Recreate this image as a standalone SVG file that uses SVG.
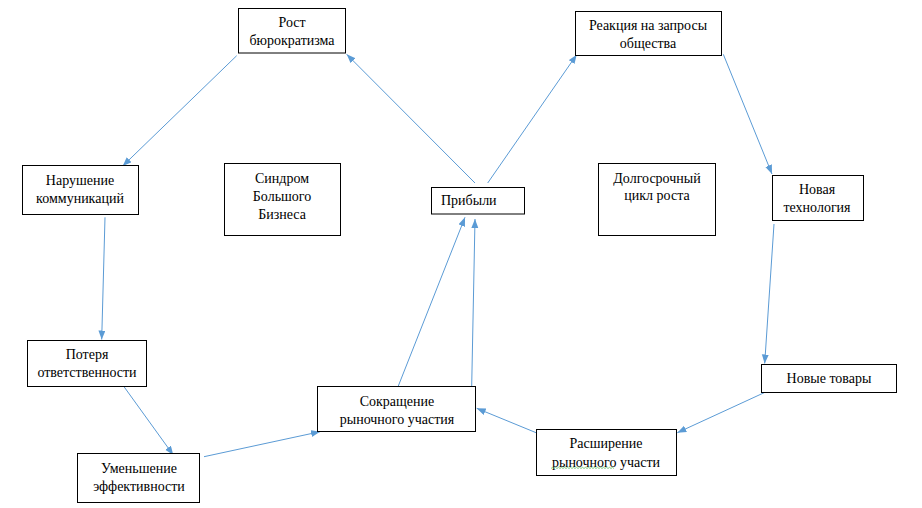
<svg xmlns="http://www.w3.org/2000/svg" width="922" height="508" viewBox="0 0 922 508">
<style>
.box{fill:#fff;stroke:#000;stroke-width:1}
.t{font-family:"Liberation Serif","Times New Roman",serif;font-size:14px;fill:#000;text-anchor:middle}
.c{stroke:#5B9BD5;stroke-width:1;fill:none;marker-end:url(#ah)}
</style>
<defs>
<marker id="ah" markerUnits="userSpaceOnUse" markerWidth="10" markerHeight="8" refX="9" refY="3.5" orient="auto">
<path d="M0,0 L9,3.5 L0,7 z" fill="#5B9BD5"/>
</marker>
</defs>
<rect width="922" height="508" fill="#fff"/>
<g id="connectors">
<line class="c" x1="236.7" y1="55.7" x2="122.7" y2="166"/>
<line class="c" x1="105" y1="217.3" x2="101.7" y2="339.5"/>
<line class="c" x1="124" y1="386.7" x2="173.3" y2="455"/>
<line class="c" x1="204" y1="456.7" x2="320" y2="431.7"/>
<line class="c" x1="398.3" y1="386" x2="465" y2="217.3"/>
<line class="c" x1="471.7" y1="386" x2="475" y2="219"/>
<line class="c" x1="475" y1="183" x2="346.7" y2="54.3"/>
<line class="c" x1="487.7" y1="183" x2="576.7" y2="54.7"/>
<line class="c" x1="723.3" y1="54.3" x2="772" y2="174"/>
<line class="c" x1="774" y1="224" x2="764.7" y2="363.5"/>
<line class="c" x1="765" y1="392.3" x2="677.3" y2="432.7"/>
<line class="c" x1="541.7" y1="435" x2="476.7" y2="408.3"/>
</g>
<g id="n-rost"><rect class="box" x="238.5" y="8.5" width="107" height="44.5"/><text class="t" x="292" y="27">Рост</text><text class="t" x="292" y="45">бюрократизма</text></g>
<g id="n-narushenie"><rect class="box" x="22.5" y="165.5" width="116" height="49"/><text class="t" x="80" y="185">Нарушение</text><text class="t" x="80" y="203">коммуникаций</text></g>
<g id="n-sindrom"><rect class="box" x="224.5" y="163.5" width="116" height="72"/><text class="t" x="282" y="182.5">Синдром</text><text class="t" x="282" y="201">Большого</text><text class="t" x="282" y="219">Бизнеса</text></g>
<g id="n-pribyli"><rect class="box" x="431.5" y="187.5" width="93" height="26.5"/><text class="t" x="441" y="205" style="text-anchor:start">Прибыли</text></g>
<g id="n-reakcia"><rect class="box" x="575.5" y="11.5" width="146" height="44"/><text class="t" x="648" y="30">Реакция на запросы</text><text class="t" x="648" y="48">общества</text></g>
<g id="n-dolgo"><rect class="box" x="598.5" y="163.5" width="117" height="72"/><text class="t" x="657" y="182.5">Долгосрочный</text><text class="t" x="657" y="200">цикл роста</text></g>
<g id="n-tech"><rect class="box" x="772.5" y="175.5" width="91" height="45"/><text class="t" x="817" y="194">Новая</text><text class="t" x="817" y="212">технология</text></g>
<g id="n-tovary"><rect class="box" x="761.5" y="364.5" width="135" height="28"/><text class="t" x="829" y="382.5">Новые товары</text></g>
<g id="n-rasshirenie"><rect class="box" x="536.5" y="429.5" width="140" height="46"/><text class="t" x="606" y="448">Расширение</text><text class="t" x="606" y="466.5">рыночного участи</text><path d="M551,468.5 l1.5,-1.2 l1.5,1.2 l1.5,-1.2 l1.5,1.2 l1.5,-1.2 l1.5,1.2 l1.5,-1.2 l1.5,1.2 l1.5,-1.2 l1.5,1.2 l1.5,-1.2 l1.5,1.2 l1.5,-1.2 l1.5,1.2 l1.5,-1.2 l1.5,1.2 l1.5,-1.2 l1.5,1.2 l1.5,-1.2 l1.5,1.2 l1.5,-1.2 l1.5,1.2 l1.5,-1.2 l1.5,1.2 l1.5,-1.2 l1.5,1.2 l1.5,-1.2 l1.5,1.2 l1.5,-1.2 l1.5,1.2 l1.5,-1.2 l1.5,1.2 l1.5,-1.2 l1.5,1.2 l1.5,-1.2 l1.5,1.2 l1.5,-1.2 l1.5,1.2 l1.5,-1.2 l1.5,1.2 l1.5,-1.2 l1.5,1.2" fill="none" stroke="#5FBF5F" stroke-width="0.8"/></g>
<g id="n-sokrashenie"><rect class="box" x="317.5" y="386.5" width="158" height="45"/><text class="t" x="397" y="406">Сокращение</text><text class="t" x="397" y="424">рыночного участия</text></g>
<g id="n-poterya"><rect class="box" x="27.5" y="340.5" width="119" height="46"/><text class="t" x="87" y="359">Потеря</text><text class="t" x="87" y="377">ответственности</text></g>
<g id="n-umenshenie"><rect class="box" x="77.5" y="453.5" width="122" height="49"/><text class="t" x="139" y="472.5">Уменьшение</text><text class="t" x="139" y="490.5">эффективности</text></g>
</svg>
